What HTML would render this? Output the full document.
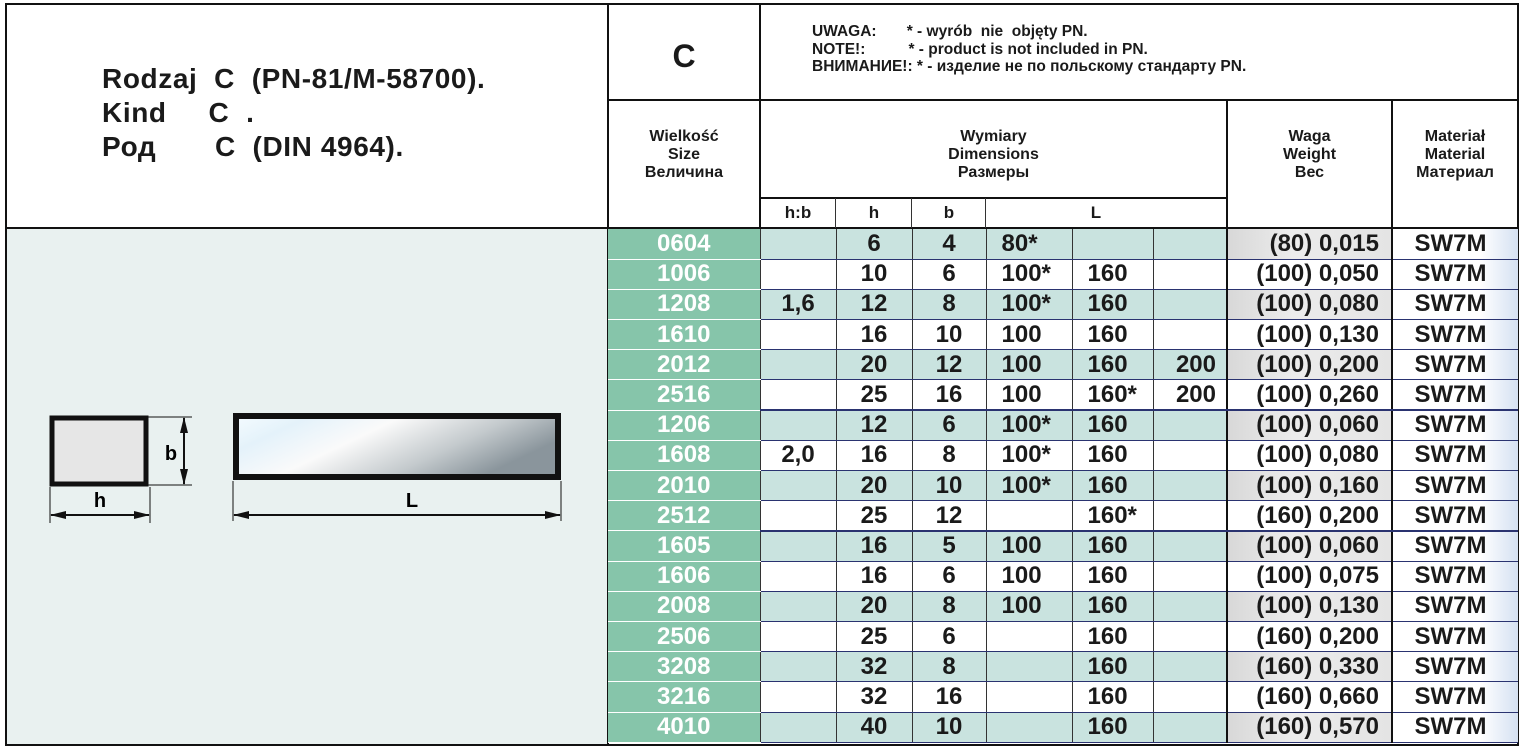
<!DOCTYPE html>
<html><head><meta charset="utf-8"><style>
*{margin:0;padding:0;box-sizing:border-box}
body{width:1524px;height:752px;background:#fff;position:relative;overflow:hidden;font-family:"Liberation Sans",Arial,sans-serif;color:#1a1a1a}
.a{position:absolute}
.hl{position:absolute;background:#111;height:2px}
.vl{position:absolute;background:#111;width:2px}
.h{position:absolute;text-align:center;font-weight:bold;font-size:16px;line-height:18px}
table{position:absolute;left:608px;top:229px;border-collapse:collapse;table-layout:fixed;width:910px}
td{height:30.2px;font-weight:bold;font-size:24px;line-height:26px;padding:0;border-bottom:1px solid #2a3370;border-left:1px solid #333;white-space:nowrap;overflow:hidden}
td:nth-child(1){background:#86c5aa;color:#fff;text-align:center;border-bottom:1px solid #fff;border-left:none}
td:nth-child(2),td:nth-child(3),td:nth-child(4){text-align:center}
td:nth-child(5),td:nth-child(6){text-align:left;padding-left:15px}
td:nth-child(7){text-align:right;padding-right:10px}
td:nth-child(8){text-align:right;padding-right:12px;border-left:2px solid #111}
td:nth-child(9){text-align:center;background:linear-gradient(90deg,#fff 0%,#fff 70%,#d5e1f2 100%);border-left:2px solid #111;padding-right:10px}
tr.t td{background:#c9e3df}
tr.t td:nth-child(1){background:#86c5aa}
tr.t td:nth-child(8){background:linear-gradient(90deg,#d8d8d8,#ececec 40%,#e4e4e4)}
tr.t td:nth-child(9){background:linear-gradient(90deg,#fff 0%,#fff 70%,#d5e1f2 100%)}
tr.g td{border-bottom:2px solid #2a3370}
tr.g td:nth-child(1){border-bottom:1px solid #fff}
</style></head><body>
<div class="a" style="left:5px;top:228px;width:603px;height:517px;background:#e9f1f0"></div>
<div class="hl" style="left:5px;top:3px;width:1514px"></div>
<div class="hl" style="left:5px;top:744px;width:1514px"></div>
<div class="vl" style="left:5px;top:3px;height:743px"></div>
<div class="vl" style="left:1517px;top:3px;height:743px"></div>
<div class="hl" style="left:5px;top:227px;width:1514px"></div>
<div class="vl" style="left:607px;top:3px;height:743px"></div>
<div class="vl" style="left:759px;top:3px;height:226px"></div>
<div class="hl" style="left:607px;top:99px;width:912px"></div>
<div class="hl" style="left:759px;top:197px;width:469px"></div>
<div class="vl" style="left:1226px;top:99px;height:130px"></div>
<div class="vl" style="left:1391px;top:99px;height:130px"></div>
<div class="a" style="left:835px;top:198px;width:1px;height:30px;background:#333"></div>
<div class="a" style="left:911px;top:198px;width:1px;height:30px;background:#333"></div>
<div class="a" style="left:985px;top:198px;width:1px;height:30px;background:#333"></div>
<div class="a" style="left:102px;top:62px;font-size:28px;font-weight:bold;line-height:34px;letter-spacing:0.6px;white-space:pre">Rodzaj  C  (PN-81/M-58700).
Kind     C  .
Род       C  (DIN 4964).</div>
<div class="h" style="left:608px;top:38px;width:152px;font-size:32px;line-height:36px">C</div>
<div class="a" style="left:812px;top:23px;font-size:15.5px;font-weight:bold;line-height:17.5px;white-space:pre">UWAGA:       * - wyrób  nie  objęty PN.
NOTE!:          * - product is not included in PN.
ВНИМАНИЕ!: * - изделие не по польскому стандарту PN.</div>
<div class="h" style="left:608px;top:128px;width:152px">Wielkość<br>Size<br>Величина</div>
<div class="h" style="left:760px;top:128px;width:467px">Wymiary<br>Dimensions<br>Размеры</div>
<div class="h" style="left:1227px;top:128px;width:165px">Waga<br>Weight<br>Вес</div>
<div class="h" style="left:1392px;top:128px;width:126px">Materiał<br>Material<br>Материал</div>
<div class="h" style="left:760px;top:204px;width:76px;font-size:17px">h:b</div>
<div class="h" style="left:836px;top:204px;width:76px;font-size:17px">h</div>
<div class="h" style="left:912px;top:204px;width:74px;font-size:17px">b</div>
<div class="h" style="left:1086px;top:204px;width:20px;font-size:17px">L</div>
<svg class="a" style="left:40px;top:405px" width="540" height="120">
<defs><linearGradient id="gr" x1="0" y1="0" x2="1" y2="0.4">
<stop offset="0" stop-color="#f4fbff"/><stop offset="0.2" stop-color="#e4f2fa"/><stop offset="0.45" stop-color="#fafafa"/><stop offset="0.75" stop-color="#c4cacd"/><stop offset="1" stop-color="#8a959c"/></linearGradient>
<marker id="ar" markerUnits="userSpaceOnUse" markerWidth="16" markerHeight="8" refX="15" refY="4" orient="auto-start-reverse"><path d="M0,0L16,4L0,8z" fill="#111"/></marker></defs>
<rect x="12" y="13" width="94" height="66" fill="#e6e6e6" stroke="#111" stroke-width="5"/>
<line x1="108" y1="12" x2="152" y2="12" stroke="#111"/>
<line x1="108" y1="80" x2="152" y2="80" stroke="#111"/>
<line x1="144" y1="13" x2="144" y2="79" stroke="#111" stroke-width="2" marker-end="url(#ar)" marker-start="url(#ar)"/>
<text x="131" y="55" font-size="20" font-weight="bold" text-anchor="middle" font-family="Liberation Sans">b</text>
<line x1="10" y1="82" x2="10" y2="118" stroke="#111"/>
<line x1="110" y1="82" x2="110" y2="118" stroke="#111"/>
<line x1="11" y1="110" x2="109" y2="110" stroke="#111" stroke-width="2" marker-end="url(#ar)" marker-start="url(#ar)"/>
<text x="60" y="102" font-size="20" font-weight="bold" text-anchor="middle" font-family="Liberation Sans">h</text>
<rect x="196" y="11" width="322" height="61" fill="url(#gr)" stroke="#111" stroke-width="6"/>
<line x1="193" y1="76" x2="193" y2="116" stroke="#111"/>
<line x1="521" y1="76" x2="521" y2="116" stroke="#111"/>
<line x1="194" y1="110" x2="520" y2="110" stroke="#111" stroke-width="2" marker-end="url(#ar)" marker-start="url(#ar)"/>
<text x="372" y="102" font-size="20" font-weight="bold" text-anchor="middle" font-family="Liberation Sans">L</text>
</svg>
<table>
<colgroup><col style="width:152px"><col style="width:76px"><col style="width:76px"><col style="width:74px"><col style="width:86px"><col style="width:81px"><col style="width:74px"><col style="width:165px"><col style="width:126px"></colgroup>
<tr class="t"><td>0604</td><td></td><td>6</td><td>4</td><td>80*</td><td></td><td></td><td>(80) 0,015</td><td>SW7M</td></tr>
<tr><td>1006</td><td></td><td>10</td><td>6</td><td>100*</td><td>160</td><td></td><td>(100) 0,050</td><td>SW7M</td></tr>
<tr class="t"><td>1208</td><td>1,6</td><td>12</td><td>8</td><td>100*</td><td>160</td><td></td><td>(100) 0,080</td><td>SW7M</td></tr>
<tr><td>1610</td><td></td><td>16</td><td>10</td><td>100</td><td>160</td><td></td><td>(100) 0,130</td><td>SW7M</td></tr>
<tr class="t"><td>2012</td><td></td><td>20</td><td>12</td><td>100</td><td>160</td><td>200</td><td>(100) 0,200</td><td>SW7M</td></tr>
<tr class="g"><td>2516</td><td></td><td>25</td><td>16</td><td>100</td><td>160*</td><td>200</td><td>(100) 0,260</td><td>SW7M</td></tr>
<tr class="t"><td>1206</td><td></td><td>12</td><td>6</td><td>100*</td><td>160</td><td></td><td>(100) 0,060</td><td>SW7M</td></tr>
<tr><td>1608</td><td>2,0</td><td>16</td><td>8</td><td>100*</td><td>160</td><td></td><td>(100) 0,080</td><td>SW7M</td></tr>
<tr class="t"><td>2010</td><td></td><td>20</td><td>10</td><td>100*</td><td>160</td><td></td><td>(100) 0,160</td><td>SW7M</td></tr>
<tr class="g"><td>2512</td><td></td><td>25</td><td>12</td><td></td><td>160*</td><td></td><td>(160) 0,200</td><td>SW7M</td></tr>
<tr class="t"><td>1605</td><td></td><td>16</td><td>5</td><td>100</td><td>160</td><td></td><td>(100) 0,060</td><td>SW7M</td></tr>
<tr><td>1606</td><td></td><td>16</td><td>6</td><td>100</td><td>160</td><td></td><td>(100) 0,075</td><td>SW7M</td></tr>
<tr class="t"><td>2008</td><td></td><td>20</td><td>8</td><td>100</td><td>160</td><td></td><td>(100) 0,130</td><td>SW7M</td></tr>
<tr><td>2506</td><td></td><td>25</td><td>6</td><td></td><td>160</td><td></td><td>(160) 0,200</td><td>SW7M</td></tr>
<tr class="t"><td>3208</td><td></td><td>32</td><td>8</td><td></td><td>160</td><td></td><td>(160) 0,330</td><td>SW7M</td></tr>
<tr><td>3216</td><td></td><td>32</td><td>16</td><td></td><td>160</td><td></td><td>(160) 0,660</td><td>SW7M</td></tr>
<tr class="t"><td>4010</td><td></td><td>40</td><td>10</td><td></td><td>160</td><td></td><td>(160) 0,570</td><td>SW7M</td></tr>
</table>
</body></html>
